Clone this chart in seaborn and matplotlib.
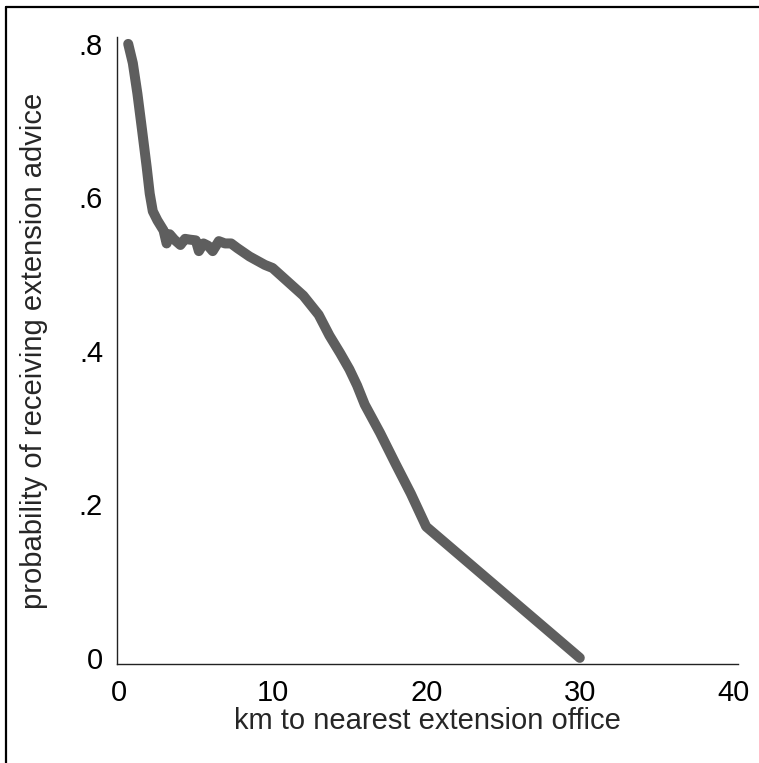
import matplotlib
matplotlib.use("Agg")
import matplotlib.pyplot as plt
from matplotlib.lines import Line2D
import seaborn as sns
import pandas as pd

# data
km = [0.6, 0.9, 1.2, 1.5, 1.8, 2.0, 2.2, 2.5, 2.9, 3.1, 3.3, 3.6, 4.0, 4.3, 4.6, 5.0,
      5.2, 5.5, 5.8, 6.1, 6.5, 6.9, 7.3, 7.7, 8.5, 9.5, 10.0, 11.0, 12.0, 13.0,
      13.7, 14.4, 15.0, 15.5, 16.0, 17.0, 18.0, 19.0, 20.0, 30.0]
prob = [0.800, 0.775, 0.735, 0.688, 0.640, 0.605, 0.582, 0.570, 0.557, 0.540, 0.552,
        0.545, 0.538, 0.546, 0.545, 0.544, 0.530, 0.540, 0.537, 0.530, 0.543,
        0.540, 0.540, 0.534, 0.523, 0.512, 0.508, 0.490, 0.472, 0.447, 0.420,
        0.397, 0.376, 0.355, 0.330, 0.293, 0.253, 0.214, 0.171, 0.0]
x_ticks = [0, 10, 20, 30, 40]
x_tick_labels = ["0", "10", "20", "30", "40"]
y_ticks = [0, 0.2, 0.4, 0.6, 0.8]
y_tick_labels = ["0", ".2", ".4", ".6", ".8"]

df = pd.DataFrame({"km": km, "prob": prob})

sns.set_style("white")
plt.rcParams["font.family"] = ["Liberation Sans", "DejaVu Sans"]

W, H = 759, 763
fig = plt.figure(figsize=(W / 100, H / 100), dpi=100)
ax = fig.add_axes([117 / W, 1 - 664 / H, (738 - 117) / W, (664 - 37) / H])

sns.lineplot(data=df, x="km", y="prob", ax=ax, color="#5e5e5e", linewidth=7.2,
             solid_capstyle="round", solid_joinstyle="round", sort=False)

ax.set_xlim(-0.13, 40.3)
ax.set_ylim(-0.008, 0.809)
ax.set_xticks(x_ticks)
ax.set_xticklabels(x_tick_labels)
ax.set_yticks(y_ticks)
ax.set_yticklabels(y_tick_labels)
ax.tick_params(axis="both", length=0, labelsize=21, colors="black")
ax.tick_params(axis="y", pad=10)
ax.tick_params(axis="x", pad=11)
ax.set_xlabel("km to nearest extension office", fontsize=21, labelpad=0)
ax.set_ylabel("probability of receiving extension advice", fontsize=21, labelpad=22)

for s in ["top", "right"]:
    ax.spines[s].set_visible(False)
for s in ["left", "bottom"]:
    ax.spines[s].set_color("#222222")
    ax.spines[s].set_linewidth(1.0)

# outer frame (top and left edges visible in reference)
fig.add_artist(Line2D([6 / W, 1.0], [1 - 7 / H, 1 - 7 / H], transform=fig.transFigure,
                      color="black", linewidth=1.6))
fig.add_artist(Line2D([6 / W, 6 / W], [0.0, 1 - 7 / H], transform=fig.transFigure,
                      color="black", linewidth=1.6))

fig.savefig("out.png", dpi=100)
